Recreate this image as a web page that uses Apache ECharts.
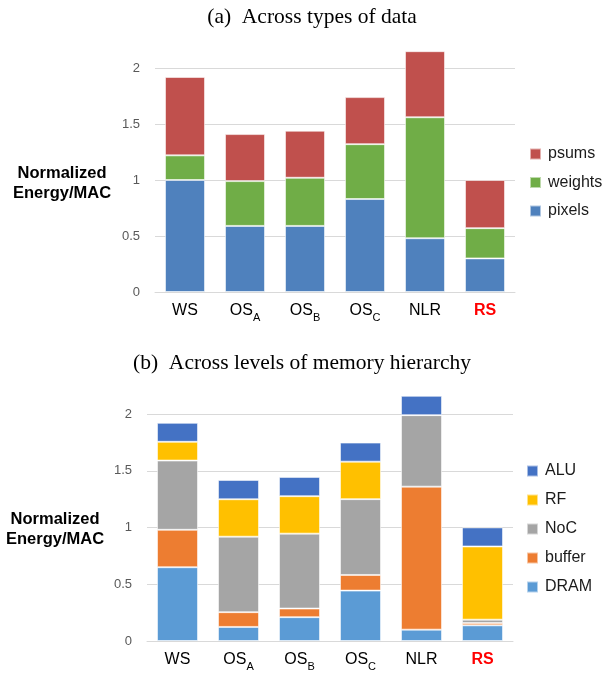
<!DOCTYPE html>
<html><head><meta charset="utf-8">
<script src="https://cdn.jsdelivr.net/npm/echarts@6/dist/echarts.min.js"></script>
<style>html,body{margin:0;padding:0;background:#fff}#c{width:615px;height:675px}</style>
</head><body><div id="c"></div>
<script>
const categories = ['WS', 'OS_A', 'OS_B', 'OS_C', 'NLR', 'RS'];
const yTicks = [0, 0.5, 1, 1.5, 2];
// (a) data types
const pixels  = [1.00, 0.59, 0.59, 0.83, 0.48, 0.30];
const weights = [0.22, 0.40, 0.43, 0.49, 1.08, 0.27];
const psums   = [0.70, 0.42, 0.42, 0.42, 0.59, 0.43];
// (b) memory hierarchy
const DRAM   = [0.65, 0.124, 0.21, 0.444, 0.10, 0.138];
const buffer = [0.33, 0.13, 0.076, 0.138, 1.26, 0.02];
const NoC    = [0.61, 0.665, 0.66, 0.668, 0.63, 0.03];
const RF     = [0.165, 0.33, 0.33, 0.33, 0, 0.645];
const ALU    = [0.167, 0.17, 0.17, 0.168, 0.17, 0.168];

const FONT = 'Liberation Sans, Arial, sans-serif';
const SERIF = 'Liberation Serif, Times New Roman, serif';

function catLabel(v) {
  if (v === 'RS') return '{r|RS}';
  const p = v.split('_');
  if (p.length === 2) return '{m|' + p[0] + '}{s|' + p[1] + '}';
  return '{m|' + v + '}';
}
const rich = {
  m: {fontSize: 16, fontFamily: FONT, color: '#000', lineHeight: 18},
  s: {fontSize: 11, fontFamily: FONT, color: '#000', lineHeight: 18, verticalAlign: 'bottom', padding: [0, 0, -3, 0]},
  r: {fontSize: 16, fontFamily: FONT, color: '#ff0000', fontWeight: 'bold', lineHeight: 18}
};

function xAx(gi) {
  return {
    type: 'category', gridIndex: gi, data: categories,
    axisLine: {lineStyle: {color: '#d9d9d9', width: 1}},
    axisTick: {show: false},
    axisLabel: {formatter: catLabel, rich: rich, margin: 10, interval: 0}
  };
}
function yAx(gi) {
  return {
    type: 'value', gridIndex: gi, min: yTicks[0], max: yTicks[yTicks.length - 1], interval: 0.5,
    axisLine: {show: false}, axisTick: {show: false},
    axisLabel: {color: '#595959', fontSize: 13, fontFamily: FONT, margin: 15},
    splitLine: {lineStyle: {color: '#d9d9d9', width: 1}}
  };
}
function bar(name, data, color, gi, stack, w) {
  return {
    name: name, type: 'bar', data: data, stack: stack, xAxisIndex: gi, yAxisIndex: gi,
    barWidth: w, clip: false,
    itemStyle: {color: color, borderColor: 'rgba(255,255,255,0.55)', borderWidth: 1},
    emphasis: {disabled: true}
  };
}

const chart = echarts.init(document.getElementById('c'), null, {renderer: 'canvas'});
chart.setOption({
  animation: false,
  backgroundColor: '#fff',
  title: [
    {text: '(a)  Across types of data', left: 307, top: 1, textAlign: 'center',
     textStyle: {fontFamily: SERIF, fontSize: 21.5, fontWeight: 'normal', color: '#000'}},
    {text: '(b)  Across levels of memory hierarchy', left: 297, top: 347, textAlign: 'center',
     textStyle: {fontFamily: SERIF, fontSize: 21.5, fontWeight: 'normal', color: '#000'}}
  ],
  graphic: [
    {type: 'text', left: 13, top: 163, style: {text: 'Normalized\nEnergy/MAC', font: 'bold 16.5px ' + FONT, fill: '#000', textAlign: 'center', lineHeight: 20}},
    {type: 'text', left: 6, top: 509, style: {text: 'Normalized\nEnergy/MAC', font: 'bold 16.5px ' + FONT, fill: '#000', textAlign: 'center', lineHeight: 20}}
  ],
  legend: [
    {orient: 'vertical', left: 524, top: 141, itemWidth: 11, itemHeight: 11, itemGap: 12.5, icon: 'rect',
     data: ['psums', 'weights', 'pixels'],
     textStyle: {fontSize: 16, fontFamily: FONT, color: '#1a1a1a', padding: [0, 0, 0, 2]}},
    {orient: 'vertical', left: 521, top: 458, itemWidth: 11, itemHeight: 11, itemGap: 13, icon: 'rect',
     data: ['ALU', 'RF', 'NoC', 'buffer', 'DRAM'],
     textStyle: {fontSize: 16, fontFamily: FONT, color: '#1a1a1a', padding: [0, 0, 0, 2]}}
  ],
  grid: [
    {left: 155, top: 68, width: 360, height: 224},
    {left: 147, top: 414, width: 366, height: 227}
  ],
  xAxis: [xAx(0), xAx(1)],
  yAxis: [yAx(0), yAx(1)],
  series: [
    bar('pixels', pixels, '#4F81BD', 0, 'a', 40),
    bar('weights', weights, '#70AD47', 0, 'a', 40),
    bar('psums', psums, '#C0504D', 0, 'a', 40),
    bar('DRAM', DRAM, '#5B9BD5', 1, 'b', 41),
    bar('buffer', buffer, '#ED7D31', 1, 'b', 41),
    bar('NoC', NoC, '#A5A5A5', 1, 'b', 41),
    bar('RF', RF, '#FFC000', 1, 'b', 41),
    bar('ALU', ALU, '#4472C4', 1, 'b', 41)
  ]
});
</script></body></html>
